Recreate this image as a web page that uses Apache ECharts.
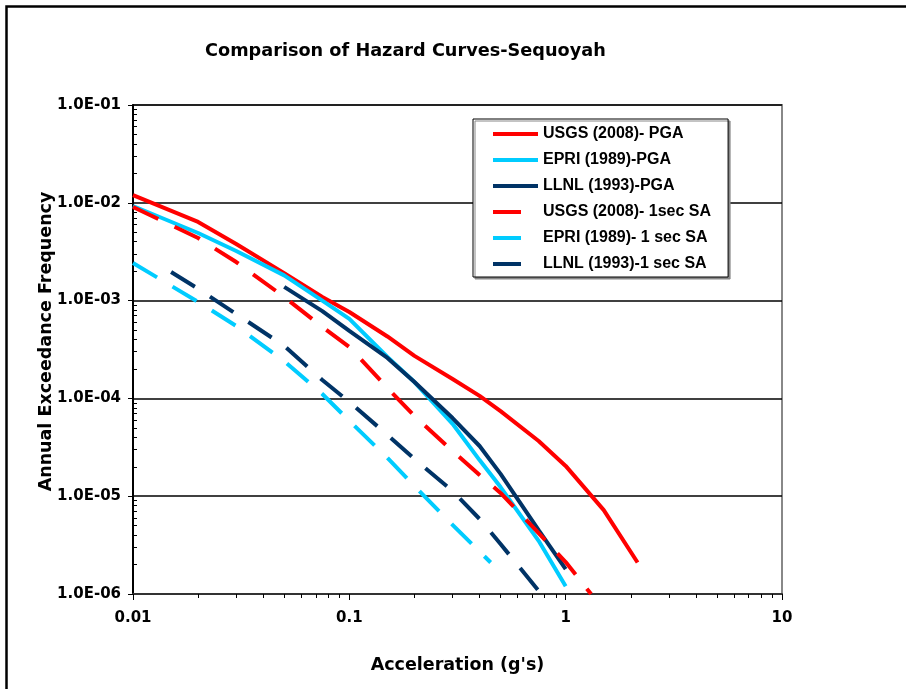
<!DOCTYPE html>
<html><head><meta charset="utf-8">
<script src="https://cdn.jsdelivr.net/npm/echarts@6/dist/echarts.min.js"></script>
<style>html,body{margin:0;padding:0;background:#fff}#c{width:906px;height:689px}</style>
</head><body><div id="c"></div>
<script>
// ---- data ----
const chartTitle = 'Comparison of Hazard Curves-Sequoyah';
const xAxisTitle = "Acceleration (g's)";
const yAxisTitle = 'Annual Exceedance Frequency';
const seriesNames = ['USGS (2008)- PGA', 'EPRI (1989)-PGA', 'LLNL (1993)-PGA',
  'USGS (2008)- 1sec SA', 'EPRI (1989)- 1 sec SA', 'LLNL (1993)-1 sec SA'];

const usgsPgaX = [0.01, 0.02, 0.03, 0.05, 0.075, 0.1, 0.15, 0.2, 0.3, 0.4, 0.5, 0.75, 1.0, 1.5, 2.15];
const usgsPgaY = [0.0120, 0.00637, 0.00379, 0.00191, 0.00109, 0.000764, 0.00043, 0.000272, 0.000158, 0.000106, 7.4e-5, 3.67e-5, 2.04e-5, 7.2e-6, 2.1e-6];

const epriPgaX = [0.01, 0.02, 0.03, 0.05, 0.075, 0.1, 0.15, 0.2, 0.3, 0.4, 0.5, 0.75, 1.0];
const epriPgaY = [0.00927, 0.00491, 0.00321, 0.00181, 0.00100, 0.00065, 0.000265, 0.000147, 5.5e-5, 2.34e-5, 1.24e-5, 3.5e-6, 1.2e-6];

const llnlPgaX = [0.05, 0.075, 0.1, 0.15, 0.2, 0.3, 0.4, 0.5, 0.75, 1.0];
const llnlPgaY = [0.00138, 0.00078, 0.000489, 0.000259, 0.000147, 6.3e-5, 3.26e-5, 1.69e-5, 4.5e-6, 1.8e-6];

const usgsSaX = [0.01, 0.02, 0.03, 0.05, 0.075, 0.1, 0.15, 0.2, 0.3, 0.4, 0.5, 0.75, 1.0, 1.31];
const usgsSaY = [0.00906, 0.00437, 0.00248, 0.00109, 0.000537, 0.000336, 0.000128, 6.6e-5, 2.9e-5, 1.65e-5, 1.08e-5, 4.2e-6, 2.12e-6, 1.0e-6];

const epriSaX = [0.01, 0.02, 0.03, 0.05, 0.075, 0.1, 0.15, 0.2, 0.3, 0.45];
const epriSaY = [0.00242, 0.00097, 0.00055, 0.00024, 0.000111, 5.9e-5, 2.46e-5, 1.27e-5, 5.1e-6, 2.1e-6];

const llnlSaX = [0.015, 0.02, 0.03, 0.05, 0.075, 0.1, 0.15, 0.2, 0.3, 0.4, 0.5, 0.77];
const llnlSaY = [0.00196, 0.00132, 0.00073, 0.000344, 0.000154, 9.2e-5, 4.23e-5, 2.4e-5, 1.13e-5, 5.85e-6, 3.25e-6, 1.0e-6];

const xMin = 0.01, xMax = 10;
const yMin = 1e-6, yMax = 0.1;

// ---- styling ----
const RED = '#FF0000', CYAN = '#00CCFF', NAVY = '#003366';
const DASH = [28, 18];
const FONT = 'DejaVu Sans';
const LEG_FONT = 'Liberation Sans';

function pairs(xs, ys) { return xs.map((x, i) => [x, ys[i]]); }
function mk(name, xs, ys, color, dashed) {
  return {
    name, type: 'line', xAxisIndex: 0, yAxisIndex: 0,
    data: pairs(xs, ys), symbol: 'none', showSymbol: false, smooth: false,
    lineStyle: { color, width: 4, type: dashed ? DASH : 'solid', cap: 'butt' },
    itemStyle: { color }, emphasis: { disabled: true }, animation: false
  };
}

const chart = echarts.init(document.getElementById('c'), null, { renderer: 'canvas' });
chart.setOption({
  animation: false,
  backgroundColor: '#fff',
  title: {
    text: chartTitle, left: 205, top: 42, padding: 0,
    textStyle: { fontFamily: FONT, fontWeight: 'bold', fontSize: 17.7, color: '#000' }
  },
  graphic: [{
    type: 'rect', left: 4, top: 4, z: 100, silent: true,
    shape: { x: 0, y: 0, width: 1200, height: 1200 },
    style: { fill: 'none', stroke: '#000', lineWidth: 2.5 }
  }],
  grid: {
    left: 133, right: 124, top: 105, bottom: 95, containLabel: false,
    show: true, borderColor: '#888', borderWidth: 2, backgroundColor: '#fff'
  },
  legend: {
    orient: 'vertical', left: 473, top: 119,
    padding: [7, 17, 5, 18],
    itemWidth: 45, itemHeight: 14, itemGap: 10,
    backgroundColor: '#fff', borderColor: '#000', borderWidth: 1,
    shadowColor: '#888', shadowOffsetX: 2, shadowOffsetY: 2, shadowBlur: 0,
    itemStyle: { opacity: 0, borderWidth: 0 },
    lineStyle: { width: 4 },
    textStyle: { fontFamily: LEG_FONT, fontWeight: 'bold', fontSize: 16, color: '#000' },
    data: seriesNames, selectedMode: false
  },
  xAxis: [{
    type: 'log', logBase: 10, min: xMin, max: xMax,
    name: xAxisTitle, nameLocation: 'middle', nameGap: 62, nameMoveOverlap: false,
    nameTextStyle: { fontFamily: FONT, fontWeight: 'bold', fontSize: 17.5, color: '#000' },
    axisLine: { show: true, lineStyle: { color: '#333', width: 2 } },
    axisTick: { show: true, length: 6, inside: false, lineStyle: { color: '#000', width: 1 } },
    minorTick: { show: true, splitNumber: 9, length: 4, lineStyle: { color: '#000', width: 1 } },
    axisLabel: { margin: 17, fontFamily: FONT, fontWeight: 'bold', fontSize: 15, color: '#000',
      formatter: v => String(+v.toPrecision(3)) },
    splitLine: { show: false }, minorSplitLine: { show: false }
  }],
  yAxis: [{
    type: 'log', logBase: 10, min: yMin, max: yMax, position: 'left',
    name: yAxisTitle, nameLocation: 'middle', nameGap: 78, nameRotate: 90, nameMoveOverlap: false,
    nameTextStyle: { fontFamily: FONT, fontWeight: 'bold', fontSize: 17.5, color: '#000', padding: [0, 0, 0, 16] },
    axisLine: { show: true, lineStyle: { color: '#000', width: 2 } },
    axisTick: { show: true, length: 5, inside: false, lineStyle: { color: '#000', width: 1 } },
    minorTick: { show: false },
    axisLabel: { margin: 12, fontFamily: FONT, fontWeight: 'bold', fontSize: 15, color: '#000',
      formatter: v => { const e = Math.round(Math.log10(v)); return '1.0E' + (e < 0 ? '-' : '+') + String(Math.abs(e)).padStart(2, '0'); } },
    splitLine: { show: true, showMaxLine: false, showMinLine: false, lineStyle: { color: '#000', width: 1.5 } }
  }, {
    type: 'log', logBase: 10, min: yMin, max: yMax, position: 'left', offset: 0,
    axisLine: { show: false },
    axisTick: { show: false, inside: true },
    minorTick: { show: true, splitNumber: 9, length: 4, lineStyle: { color: '#000', width: 1 } },
    axisLabel: { show: false },
    splitLine: { show: false }
  }],
  series: [
    mk(seriesNames[0], usgsPgaX, usgsPgaY, RED, false),
    mk(seriesNames[1], epriPgaX, epriPgaY, CYAN, false),
    mk(seriesNames[2], llnlPgaX, llnlPgaY, NAVY, false),
    mk(seriesNames[3], usgsSaX, usgsSaY, RED, true),
    mk(seriesNames[4], epriSaX, epriSaY, CYAN, true),
    mk(seriesNames[5], llnlSaX, llnlSaY, NAVY, true)
  ]
});
</script>
</body></html>
